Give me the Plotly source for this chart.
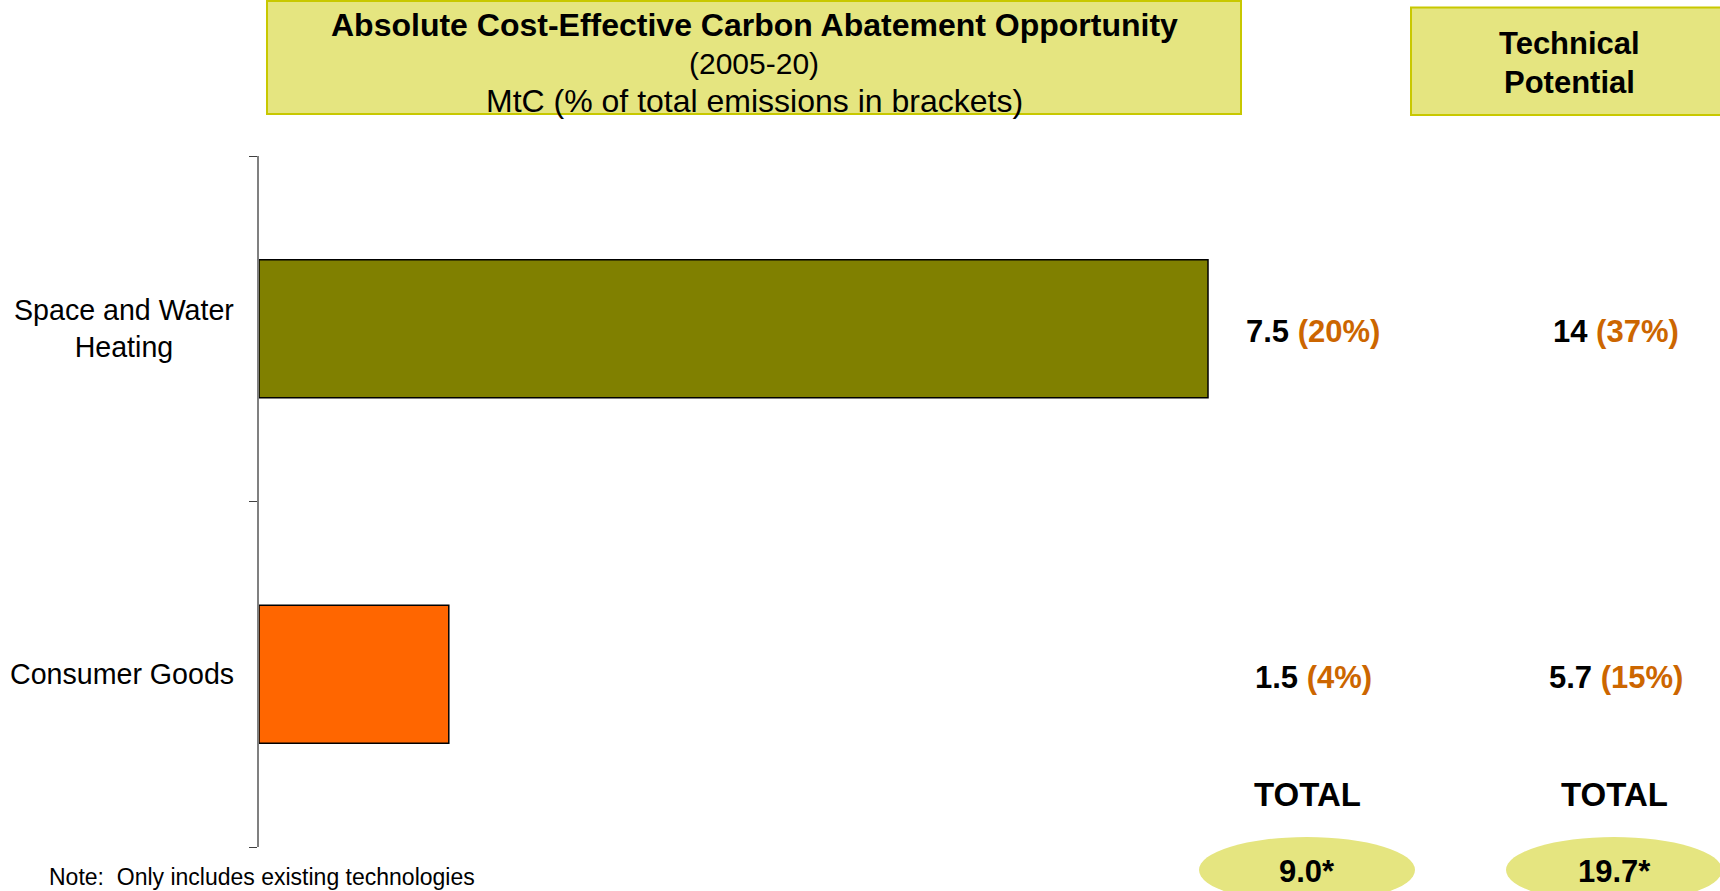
import plotly.graph_objects as go

W, H = 1720, 891

# Sector data (MtC, with share of total emissions in %)
categories = ["Space and Water Heating", "Consumer Goods"]
label_lines = [["Space and Water", "Heating"], ["Consumer Goods"]]
abatement_mtc = [7.5, 1.5]
abatement_pct = [20, 4]
technical_mtc = [14, 5.7]
technical_pct = [37, 15]
bar_colors = ["#808000", "#FF6600"]

FONT = "Liberation Sans, Arial, Helvetica, sans-serif"
BOX_FILL = "#E5E580"
BOX_LINE = "#C8C800"
PCT_COLOR = "#CC6600"


def px(x):
    return x / W


def py(y):
    return 1 - y / H


def fmt(v):
    return f"{v:g}"


def value_text(v, p):
    return f"<b>{fmt(v)} <span style='color:{PCT_COLOR}'>({p}%)</span></b>"


fig = go.Figure()
fig.add_trace(go.Bar(
    orientation="h",
    y=categories,
    x=abatement_mtc,
    width=0.4,
    marker=dict(color=bar_colors, line=dict(color="#000000", width=1.5)),
    hoverinfo="skip",
    showlegend=False,
))

annotations = []
shapes = []

# category labels, centred block right-aligned against the axis
for cat, lines in zip(categories, label_lines):
    annotations.append(dict(
        text="<br>".join(lines), xref="paper", x=px(236), xanchor="right",
        yref="y", y=cat, yanchor="middle", align="center", showarrow=False,
        font=dict(family=FONT, size=28.6, color="#000000"),
    ))

# value columns
col1_x, col2_x = 1313, 1616
for cat, a, ap, t, tp in zip(categories, abatement_mtc, abatement_pct, technical_mtc, technical_pct):
    for cx, v, p in ((col1_x, a, ap), (col2_x, t, tp)):
        annotations.append(dict(
            text=value_text(v, p), xref="paper", x=px(cx), xanchor="center",
            yref="y", y=cat, yanchor="middle", yshift=-3, showarrow=False,
            font=dict(family=FONT, size=31, color="#000000"),
        ))

# totals
total_abatement = sum(abatement_mtc)
total_technical = sum(technical_mtc)
for cx, tot in ((1307, total_abatement), (1614, total_technical)):
    annotations.append(dict(
        text="<b>TOTAL</b>", xref="paper", x=px(cx), xanchor="center",
        yref="paper", y=py(794), yanchor="middle", showarrow=False,
        font=dict(family=FONT, size=33, color="#000000"),
    ))
    shapes.append(dict(
        type="circle", xref="paper", yref="paper",
        x0=px(cx - 108), x1=px(cx + 108), y0=py(837), y1=py(903),
        fillcolor=BOX_FILL, line=dict(width=0), layer="below",
    ))
    annotations.append(dict(
        text=f"<b>{tot:.1f}*</b>", xref="paper", x=px(cx), xanchor="center",
        yref="paper", y=py(871), yanchor="middle", showarrow=False,
        font=dict(family=FONT, size=31, color="#000000"),
    ))

# header boxes
shapes.append(dict(
    type="rect", xref="paper", yref="paper",
    x0=px(267), x1=px(1241), y0=py(1), y1=py(114),
    fillcolor=BOX_FILL, line=dict(color=BOX_LINE, width=2), layer="below",
))
shapes.append(dict(
    type="rect", xref="paper", yref="paper",
    x0=px(1411), x1=px(1730), y0=py(7.5), y1=py(115),
    fillcolor=BOX_FILL, line=dict(color=BOX_LINE, width=2), layer="below",
))

header_lines = [
    ("<b>Absolute Cost-Effective Carbon Abatement Opportunity</b>", 25, 32),
    ("(2005-20)", 63, 30),
    ("MtC (% of total emissions in brackets)", 101, 32),
]
for txt, yc, sz in header_lines:
    annotations.append(dict(
        text=txt, xref="paper", x=px(754), xanchor="center",
        yref="paper", y=py(yc), yanchor="middle", showarrow=False,
        font=dict(family=FONT, size=sz, color="#000000"),
    ))
for txt, yc in (("<b>Technical</b>", 43), ("<b>Potential</b>", 82)):
    annotations.append(dict(
        text=txt, xref="paper", x=px(1569), xanchor="center",
        yref="paper", y=py(yc), yanchor="middle", showarrow=False,
        font=dict(family=FONT, size=31, color="#000000"),
    ))

annotations.append(dict(
    text="Note:  Only includes existing technologies", xref="paper", x=px(47),
    xanchor="left", yref="paper", y=py(877), yanchor="middle", showarrow=False,
    font=dict(family=FONT, size=23, color="#000000"),
))

plot_left, plot_right = 259, W
units_per_px = 7.5 / (1208 - 259)

# tick marks sit on the category boundaries, including both ends of the axis
boundaries = [i - 0.5 for i in range(len(categories) + 1)]

fig.update_layout(
    width=W, height=H,
    margin=dict(l=0, r=0, t=0, b=0),
    paper_bgcolor="#FFFFFF", plot_bgcolor="#FFFFFF",
    showlegend=False,
    xaxis=dict(
        domain=[px(plot_left), 1], range=[0, (plot_right - plot_left) * units_per_px],
        visible=False, fixedrange=True,
    ),
    yaxis=dict(
        domain=[py(847), py(156)], type="category",
        categoryorder="array", categoryarray=categories,
        range=[len(categories) - 0.5, -0.5], showline=True, linecolor="#808080", linewidth=1.5,
        ticks="outside", tickmode="array", tickvals=boundaries,
        ticktext=["" for _ in boundaries], ticklen=8, tickcolor="#404040",
        showticklabels=False, showgrid=False, zeroline=False, fixedrange=True,
    ),
    annotations=annotations,
    shapes=shapes,
)

fig.write_html("out.html")
